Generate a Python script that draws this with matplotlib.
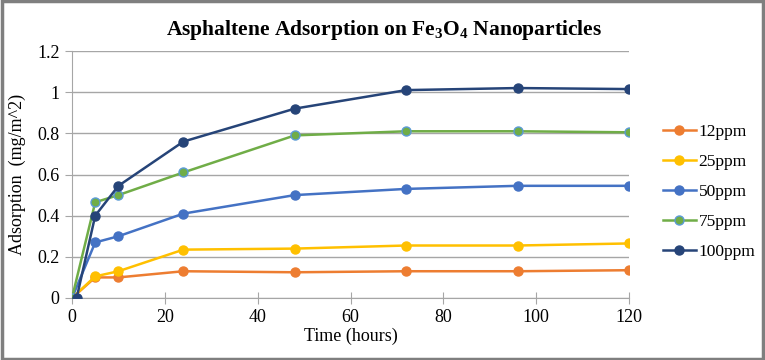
import matplotlib
matplotlib.use("Agg")
import matplotlib.pyplot as plt
from matplotlib.patches import Rectangle

plt.rcParams['font.family'] = ['Liberation Serif', 'DejaVu Serif']
plt.rcParams['mathtext.fontset'] = 'custom'
plt.rcParams['mathtext.rm'] = 'Liberation Serif'
plt.rcParams['mathtext.bf'] = 'Liberation Serif:bold'

time_a = [0, 5, 10, 24, 48, 72, 96, 120]
time_b = [1, 5, 10, 24, 48, 72, 96, 120]
ppm12 = [0, 0.10, 0.10, 0.13, 0.125, 0.13, 0.13, 0.135]
ppm25 = [0, 0.105, 0.13, 0.235, 0.24, 0.255, 0.255, 0.265]
ppm50 = [0, 0.27, 0.30, 0.41, 0.50, 0.53, 0.545, 0.545]
ppm75 = [0, 0.465, 0.50, 0.61, 0.79, 0.81, 0.81, 0.805]
ppm100 = [0, 0.40, 0.545, 0.76, 0.92, 1.01, 1.02, 1.015]
labels = ['12ppm', '25ppm', '50ppm', '75ppm', '100ppm']
xticks = [0, 20, 40, 60, 80, 100, 120]
yticks = [0, 0.2, 0.4, 0.6, 0.8, 1, 1.2]
yticklabels = ['0', '0.2', '0.4', '0.6', '0.8', '1', '1.2']

fig = plt.figure(figsize=(7.65, 3.6), dpi=100)
ax = fig.add_axes([72/765, 1-298/360, (629-72)/765, (298-51)/360])

series = [
    (time_a, ppm12, '#ED7D31', '#ED7D31'),
    (time_a, ppm25, '#FFC000', '#FFC000'),
    (time_a, ppm50, '#4472C4', '#4472C4'),
    (time_a, ppm75, '#70AD47', '#5B9BD5'),
    (time_b, ppm100, '#264478', '#264478'),
]
for (x, y, c, ec), lab in zip(series, labels):
    ax.plot(x, y, color=c, lw=1.8, marker='o', ms=6.5, mfc=c, mec=ec, mew=1,
            label=lab, zorder=3)

ax.set_xlim(0, 120)
ax.set_ylim(0, 1.2)
ax.set_xticks(xticks)
ax.set_yticks(yticks)
ax.set_yticklabels(yticklabels)
ax.grid(axis='y', color='#A6A6A6', lw=1)
ax.set_axisbelow(True)
for s in ['top', 'right']:
    ax.spines[s].set_visible(False)
for s in ['left', 'bottom']:
    ax.spines[s].set_color('#A6A6A6')
ax.tick_params(axis='x', direction='inout', length=8, color='#A6A6A6', labelsize=13, pad=4)
ax.tick_params(axis='y', direction='out', length=5, color='#A6A6A6', labelsize=13, pad=4)
ax.set_xlabel('Time (hours)', fontsize=13, labelpad=1)
ax.set_ylabel('Adsorption  (mg/m^2)', fontsize=13, labelpad=8)

fig.text(384/765, 1 - 30/360, r'Asphaltene Adsorption on Fe$_\mathbf{3}$O$_\mathbf{4}$ Nanoparticles',
         ha='center', va='center', fontsize=15.5, fontweight='bold')

leg = fig.legend(loc='upper left', bbox_to_anchor=(647/765, 1 - 108/360), frameon=False,
                 fontsize=12.5, handlelength=1.9, handletextpad=0.17, labelspacing=0.8)

fig.add_artist(Rectangle((0.002, 0.003), 0.995, 0.993, transform=fig.transFigure,
                         fill=False, edgecolor='#7F7F7F', lw=2.5))
fig.savefig('out.png', dpi=100)
